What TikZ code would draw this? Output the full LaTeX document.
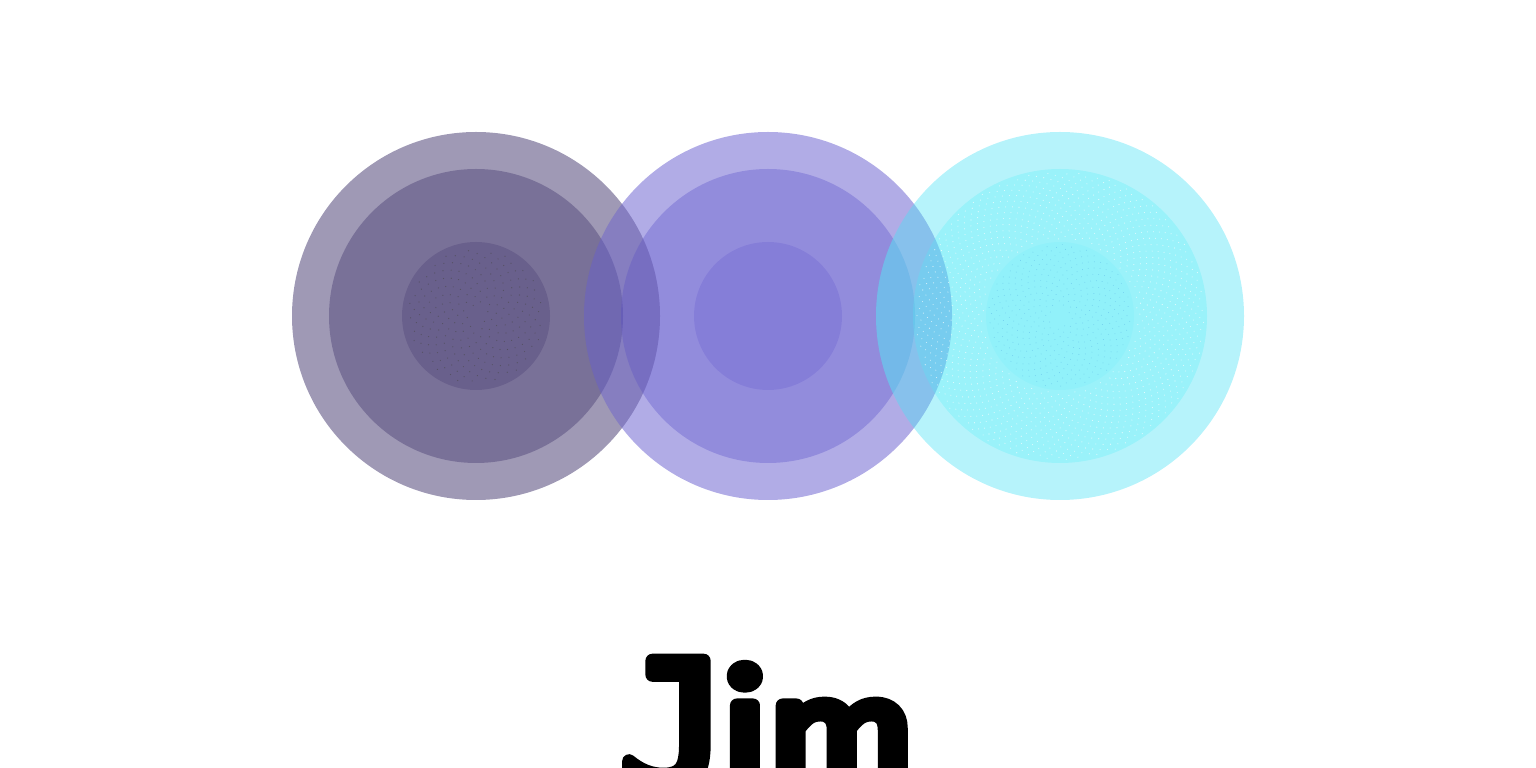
\documentclass[tikz,border=0pt]{standalone}
\usepackage{fontspec}
\usetikzlibrary{positioning}
\newfontfamily\jfont{DejaVu Sans Mono}[FakeBold=8,FakeStretch=1.05]
\newfontfamily\imfont{Fira Sans}[FakeBold=9,FakeStretch=1.15]
\definecolor{darkbase}{RGB}{15,0,70}
\definecolor{violetbase}{RGB}{60,48,193}
\definecolor{cyanbase}{RGB}{73,225,245}
\definecolor{cyanmiddle}{RGB}{73,240,248}
\tikzset{
  ring/.style={circle, inner sep=0pt, draw=none, fill opacity=#1},
  outer/.style={ring=0.40, minimum size=368pt},
  middle/.style={ring=0.26, minimum size=294pt},
  core/.style={ring=0.15, minimum size=148pt},
  name text/.style={inner sep=0pt, anchor=base, text=black}
}
\begin{document}
\begin{tikzpicture}
	[x=1pt, y=1pt, on grid, node distance=292pt, line join=round]
   \useasboundingbox (0,0) rectangle (1536,768);
   % left group
   \node[outer, fill=darkbase] (outer_1) at (476,452) {};
   \node[middle, fill=darkbase] (middle_1) at (outer_1) {};
   \node[core, fill=darkbase] (core_1) at (outer_1) {};
   % middle group
   \node[outer, fill=violetbase] (outer_2) [right=of outer_1] {};
   \node[middle, fill=violetbase] (middle_2) at (outer_2) {};
   \node[core, fill=violetbase] (core_2) at (outer_2) {};
   % right group
   \node[outer, fill=cyanbase] (outer_3) [right=of outer_2] {};
   \node[middle, fill=cyanmiddle] (middle_3) at (outer_3) {};
   \node[core, fill=cyanmiddle, fill opacity=0.10] (core_3) at (outer_3) {};
   % lighter overlaps
   \begin{scope}
     \clip (outer_1) circle (184pt);
     \fill[white, opacity=0.10] (outer_2) circle (184pt);
   \end{scope}
   \begin{scope}
     \clip (middle_2) circle (147pt);
     \fill[cyanbase!80!white, opacity=0.20] (outer_3) circle (184pt);
   \end{scope}
   % stipple
   \foreach \n in {4,...,230}
     \fill[black!45!gray, opacity=0.6] (outer_1) ++({100*mod(\n*1.37508,3.6)}:{4.45*sqrt(\n)}) circle (0.6pt);
   \foreach \n in {8,...,430}
     \fill[violetbase!40!cyanbase, opacity=0.4] (outer_3) ++({100*mod(\n*1.37508,3.6)}:{3.45*sqrt(\n)}) circle (0.45pt);
   \foreach \n in {480,...,1700}
     \fill[white, opacity=0.7] (outer_3) ++({100*mod(\n*1.37508,3.6)}:{3.5*sqrt(\n)}) circle (0.55pt);
   % name
   \node[name text] (name) at (768,-18) {{\fontsize{172}{172}\selectfont\jfont J}\kern-8pt{\fontsize{153}{153}\selectfont\imfont i\kern-4pt m}};
\end{tikzpicture}
\end{document}
